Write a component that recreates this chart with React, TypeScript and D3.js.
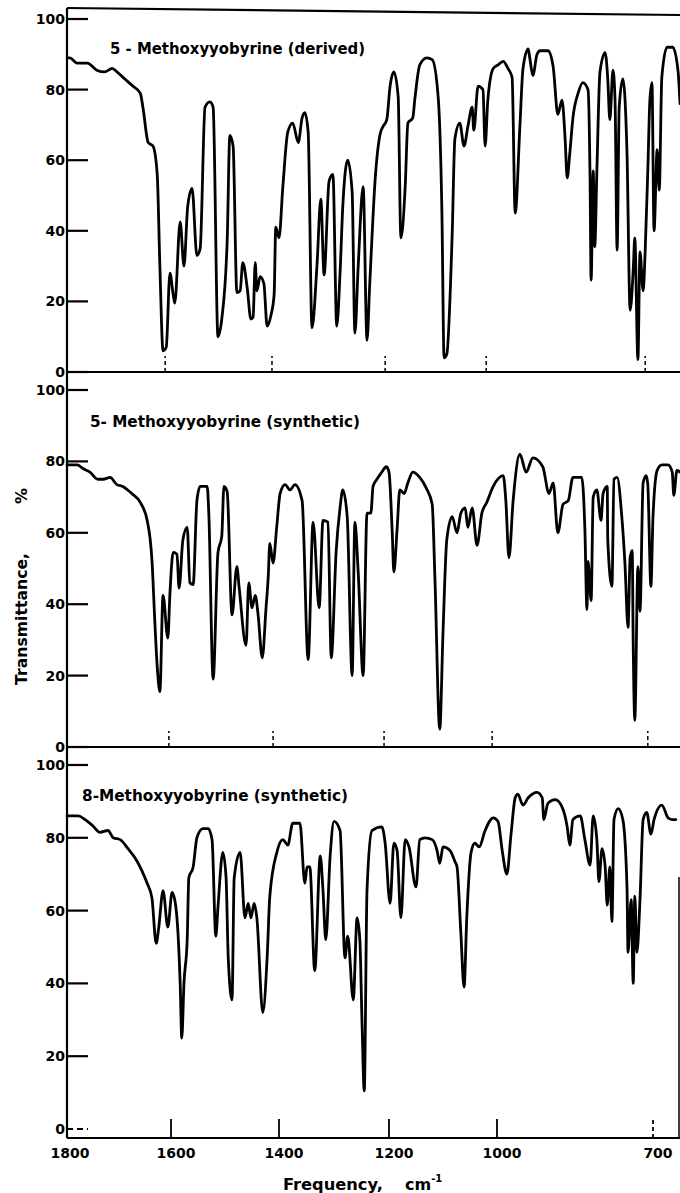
import React from 'react';
import * as d3 from 'd3';

// IR spectra, % transmittance vs frequency (cm-1)
const freqTicks = [1800, 1600, 1400, 1200, 1000, 700];
const pctTicks = [0, 20, 40, 60, 80, 100];

// chart-paper reference marks seen on the baseline of the two upper charts
const marksDerived = [1611, 1413, 1207, 1020, 715];
const marksSynth5 = [1604, 1411, 1209, 1009, 710];

const derived5: [number, number][] = [
  [1796, 89], [1791, 89], [1777, 87.5], [1758, 87.5], [1740, 85.5], [1725, 85], [1711, 86], [1702, 85],
  [1687, 83], [1672, 81], [1658, 79], [1653, 75], [1643, 65], [1634, 64], [1626, 56], [1621, 30],
  [1615, 6], [1609, 7], [1602, 28], [1596, 22], [1593, 19.5], [1583, 42.5], [1576, 30], [1569, 47],
  [1561, 52], [1552, 33], [1546, 35], [1537, 75], [1528, 76.5], [1522, 75], [1513, 10], [1506, 15],
  [1496, 37], [1491, 67], [1485, 64], [1478, 22.5], [1472, 23], [1467, 31], [1459, 24], [1452, 15],
  [1448, 15.5], [1444, 31], [1441, 23], [1435, 27], [1428, 25], [1422, 13], [1415, 16], [1409, 22],
  [1406, 41], [1400, 38], [1393, 52.5], [1384, 68], [1375, 70.5], [1365, 65], [1358, 72], [1353, 73.5],
  [1347, 68], [1340, 12.5], [1331, 30], [1324, 49], [1318, 27.5], [1309, 54], [1302, 56], [1295, 13],
  [1289, 28], [1284, 47], [1275, 60], [1267, 51], [1262, 11], [1256, 30], [1247, 52.5], [1240, 9],
  [1235, 25], [1225, 55], [1216, 67.5], [1211, 69.5], [1204, 71.5], [1198, 81], [1191, 85], [1183, 78],
  [1178, 38], [1170, 52.5], [1165, 70.5], [1156, 72], [1152, 77.5], [1143, 87], [1130, 89], [1120, 88.5],
  [1109, 78], [1102, 45], [1098, 4], [1093, 5], [1083, 39], [1078, 66], [1069, 70.5], [1061, 64],
  [1054, 69.5], [1046, 75], [1043, 68.5], [1035, 81], [1026, 80], [1022, 64], [1017, 77], [1007, 86],
  [998, 87], [988, 88], [979, 86], [971, 83.5], [965, 45], [956, 69.5], [950, 86], [940, 91.5],
  [937, 89], [931, 84], [923, 90], [917, 91], [902, 91], [892, 86.5], [883, 73], [875, 77],
  [869, 66], [865, 55], [860, 62], [854, 72], [844, 79], [835, 82], [825, 80], [821, 54],
  [819, 26], [815, 57], [812, 35.5], [808, 56.5], [802, 85], [792, 90.5], [787, 83], [783, 71.5],
  [777, 85.5], [773, 77], [769, 34.5], [765, 75], [758, 83], [750, 62], [744, 17.5], [738, 29],
  [735, 38], [729, 3.5], [725, 34], [719, 23], [715, 34.5], [710, 57], [706, 77], [702, 82],
  [698, 40], [692, 63], [688, 51.5], [683, 83.5], [673, 92], [662, 92], [652, 85.5], [648, 76],
];

const synthetic5: [number, number][] = [
  [1796, 79], [1791, 79], [1777, 79], [1766, 78], [1753, 77], [1738, 75], [1728, 75], [1715, 75.5],
  [1702, 73.5], [1691, 73], [1674, 71], [1658, 68.5], [1645, 63.5], [1636, 52.5], [1630, 33.5], [1626, 22.5],
  [1621, 15.5], [1615, 42.5], [1606, 30.5], [1602, 43], [1596, 54.5], [1589, 54], [1585, 44.5], [1578, 58],
  [1570, 61.5], [1565, 46], [1559, 45.5], [1552, 69], [1546, 73], [1533, 73], [1530, 65.5], [1522, 19],
  [1513, 54.5], [1506, 59], [1502, 73], [1496, 71.5], [1487, 37], [1478, 50.5], [1474, 45], [1461, 28.5],
  [1456, 46], [1450, 39], [1444, 42.5], [1439, 37.5], [1431, 25], [1424, 39], [1420, 47.5], [1417, 57],
  [1411, 51.5], [1404, 62], [1398, 71], [1389, 73.5], [1380, 72], [1371, 73.5], [1358, 69], [1347, 24.5],
  [1338, 63], [1327, 39], [1320, 63.5], [1311, 63], [1305, 25], [1296, 55], [1289, 67], [1284, 72],
  [1276, 64.5], [1267, 20], [1262, 63], [1256, 49], [1247, 20], [1240, 65.5], [1233, 65.5], [1229, 73],
  [1222, 75], [1213, 77], [1205, 78.5], [1200, 77], [1194, 60], [1191, 49], [1185, 61], [1180, 72],
  [1172, 71], [1165, 74], [1156, 77], [1143, 75.5], [1131, 72.5], [1120, 68], [1115, 47.5], [1106, 5],
  [1100, 32], [1093, 58], [1083, 64.5], [1074, 60], [1067, 65.5], [1059, 67], [1054, 61.5], [1046, 67],
  [1037, 56.5], [1028, 65.5], [1019, 68.5], [1007, 73], [988, 76], [983, 69], [977, 53], [969, 69],
  [956, 82], [944, 77], [931, 81], [912, 78.5], [900, 71], [892, 74], [883, 60], [873, 68],
  [863, 69], [854, 75.5], [837, 75.5], [831, 61], [827, 38.5], [825, 52], [819, 41], [815, 70],
  [808, 72], [800, 63.5], [796, 71], [788, 73], [787, 58], [779, 45], [775, 75], [769, 75.5],
  [760, 64.5], [754, 51.5], [748, 33.5], [744, 53], [740, 55], [738, 28], [735, 7.5], [729, 50.5],
  [725, 38], [719, 74], [713, 76], [710, 73.5], [704, 45], [700, 64.5], [692, 77.5], [683, 79],
  [671, 79], [663, 77], [660, 70.5], [654, 77.5], [648, 77],
];

const synthetic8: [number, number][] = [
  [1796, 86], [1775, 86], [1762, 85], [1749, 83.5], [1734, 81.5], [1719, 82], [1709, 80], [1696, 79.5],
  [1681, 77], [1668, 74.5], [1655, 71], [1645, 67.5], [1636, 63.5], [1628, 51], [1623, 55.5], [1615, 65.5],
  [1606, 55.5], [1598, 65], [1591, 61], [1583, 40], [1580, 25], [1576, 40], [1570, 52], [1567, 69],
  [1559, 72], [1552, 80], [1541, 82.5], [1531, 82.5], [1524, 79.5], [1517, 53], [1513, 61], [1504, 76],
  [1498, 69], [1494, 47], [1487, 35.5], [1483, 69], [1472, 76], [1463, 58], [1457, 62], [1452, 58],
  [1446, 62], [1441, 58], [1430, 32], [1422, 47], [1417, 64], [1404, 76], [1393, 79.5], [1384, 78],
  [1375, 84], [1362, 84], [1353, 67.5], [1349, 72], [1344, 72], [1335, 43.5], [1325, 75], [1320, 65.5],
  [1315, 52], [1307, 75], [1300, 84.5], [1289, 82], [1280, 47], [1275, 53], [1265, 35.5], [1258, 58],
  [1253, 52], [1249, 29], [1245, 10.5], [1240, 65.5], [1231, 82], [1213, 83], [1207, 78.5], [1198, 62],
  [1191, 78.5], [1185, 76.5], [1178, 58], [1170, 79.5], [1163, 77.5], [1150, 66.5], [1143, 79.5], [1133, 80],
  [1120, 79.5], [1111, 76.5], [1106, 73], [1100, 77.5], [1087, 76.5], [1078, 73.5], [1074, 72], [1067, 54],
  [1061, 39], [1056, 58], [1048, 76], [1041, 78.5], [1033, 77.5], [1022, 82], [1007, 85.5], [998, 84.5],
  [990, 76.5], [981, 70], [973, 81], [965, 91], [960, 92], [950, 89], [940, 91], [923, 92.5],
  [913, 91], [910, 85], [902, 89.5], [888, 90.5], [875, 88.5], [865, 83], [860, 78], [854, 85],
  [840, 86], [831, 79.5], [821, 72.5], [815, 86], [808, 79.5], [804, 68], [798, 77], [792, 72],
  [788, 61.5], [783, 72], [779, 57], [775, 85], [767, 88], [758, 85], [750, 66.5], [748, 48.5],
  [742, 63], [738, 40], [735, 64], [731, 48.5], [725, 63], [719, 85], [712, 87], [704, 81],
  [698, 85], [683, 89], [671, 85.5], [662, 85], [656, 85],
];

const W = 680;
const H = 1193;
const axisX = 67;
const font = "'DejaVu Sans', sans-serif";

// chart paper is not quite linear in frequency, so a piecewise scale
const x = d3.scaleLinear()
  .domain(freqTicks)
  .range([65, 171, 279, 389, 497, 653]);

const panels = [
  { title: '5 - Methoxyyobyrine (derived)', data: derived5, y0: 372, y100: 19, base: 372, marks: marksDerived,
    tx: 110, ty: 54, tl: 255 },
  { title: '5- Methoxyyobyrine (synthetic)', data: synthetic5, y0: 747, y100: 390, base: 747, marks: marksSynth5,
    tx: 90, ty: 427, tl: 270 },
  { title: '8-Methoxyyobyrine (synthetic)', data: synthetic8, y0: 1129, y100: 765, base: 1138, marks: [],
    tx: 82, ty: 801, tl: 266 },
];

function Panel({ p, idx }: { p: typeof panels[number]; idx: number }) {
  const y = d3.scaleLinear().domain([0, 100]).range([p.y0, p.y100]);
  const line = d3.line<[number, number]>()
    .x(d => x(d[0]))
    .y(d => y(d[1]))
    .curve(d3.curveMonotoneX);
  const last = idx === 2;
  return (
    <g>
      {/* baseline */}
      <line x1={axisX} x2={W} y1={p.base} y2={p.base} stroke="#000" strokeWidth={2.2} />
      {/* left ticks + labels */}
      {pctTicks.map(t => (
        <g key={t}>
          <line x1={axisX} x2={axisX + 21} y1={y(t)} y2={y(t)} stroke="#000" strokeWidth={2.2}
            strokeDasharray={last && t === 0 ? '6,4' : undefined} />
          <text x={axisX - 2} y={y(t)} dy="0.36em" textAnchor="end" fontFamily={font}
            fontWeight="bold" fontSize={14} fill="#000">{t}</text>
        </g>
      ))}
      {/* paper reference marks */}
      {p.marks.map(m => (
        <line key={m} x1={x(m)} x2={x(m)} y1={p.base} y2={p.base - 16} stroke="#000"
          strokeWidth={1.5} strokeDasharray="4,3" />
      ))}
      <text x={p.tx} y={p.ty} fontFamily={font} fontWeight="bold" fontSize={16}
        textLength={p.tl} lengthAdjust="spacingAndGlyphs" fill="#000">{p.title}</text>
      <path d={line(p.data) || ''} fill="none" stroke="#000" strokeWidth={2.8}
        strokeLinejoin="round" strokeLinecap="round" />
    </g>
  );
}

export default function App() {
  const base = panels[2].base;
  return (
    <div style={{ position: 'absolute', left: 0, top: 0 }}>
      <svg width={W} height={H} style={{ display: 'block', background: '#fff' }}>
        {/* frame */}
        <line x1={axisX} x2={W} y1={8} y2={15} stroke="#000" strokeWidth={2.2} />
        <line x1={axisX} x2={axisX} y1={8} y2={base} stroke="#000" strokeWidth={2.2} />
        <line x1={679} x2={679} y1={877} y2={base} stroke="#000" strokeWidth={1.5} />

        {panels.map((p, i) => <Panel key={i} p={p} idx={i} />)}

        {/* frequency ticks on the bottom chart */}
        {freqTicks.filter(f => f !== 1800).map(f => (
          <line key={f} x1={x(f)} x2={x(f)} y1={base} y2={base - 19} stroke="#000" strokeWidth={1.8}
            strokeDasharray={f === 700 ? '4,3' : undefined} />
        ))}
        {freqTicks.map(f => (
          <text key={f} x={x(f) + 5} y={1158} textAnchor="middle" fontFamily={font}
            fontWeight="bold" fontSize={14} fill="#000">{f}</text>
        ))}

        {/* axis titles */}
        <text x={283} y={1190} fontFamily={font} fontWeight="bold" fontSize={16}
          textLength={100} lengthAdjust="spacingAndGlyphs" fill="#000">Frequency,</text>
        <text x={405} y={1190} fontFamily={font} fontWeight="bold" fontSize={16} fill="#000">
          cm<tspan dy={-8} fontSize={10}>-1</tspan>
        </text>
        <g transform="translate(27,0) rotate(-90)">
          <text x={-619} y={0} textAnchor="middle" fontFamily={font} fontWeight="bold" fontSize={16}
            textLength={132} lengthAdjust="spacingAndGlyphs" fill="#000">Transmittance,</text>
          <text x={-496} y={0} textAnchor="middle" fontFamily={font} fontWeight="bold" fontSize={16}
            fill="#000">%</text>
        </g>
      </svg>
    </div>
  );
}
